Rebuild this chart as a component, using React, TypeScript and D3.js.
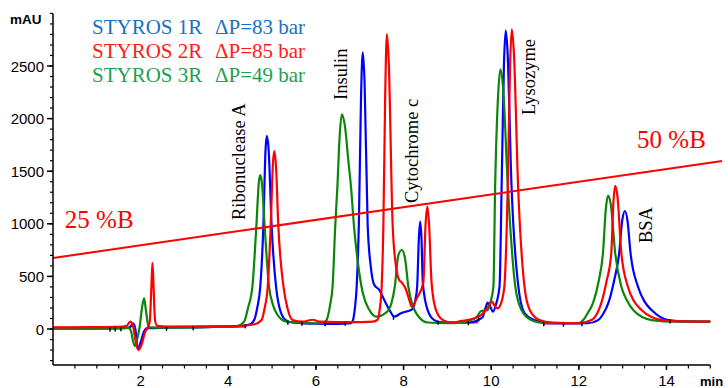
import React from 'react';
import * as d3 from 'd3';

const W = 728;
const H = 388;

// time (min), absorbance (mAU)
const blueTrace: [number, number][] = [
  [0, 3], [1.0, 5], [1.6, 10], [1.75, 15], [1.83, 55], [1.88, 0], [1.93, -190], [1.99, -140], [2.07, -30], [2.15, 8],
  [2.6, 12], [3.5, 18], [4.3, 30], [4.5, 45], [4.59, 85], [4.66, 200], [4.73, 402], [4.8, 972], [4.85, 1700], [4.88, 1835],
  [4.92, 1710], [4.99, 972], [5.09, 402], [5.17, 200], [5.31, 85], [5.5, 60], [6.0, 50], [6.5, 48], [6.8, 55], [6.85, 90],
  [6.89, 200], [6.93, 402], [6.98, 1000], [7.03, 2220], [7.07, 2630], [7.11, 2350], [7.18, 1000], [7.25, 600], [7.33, 420],
  [7.45, 370], [7.56, 276], [7.68, 180], [7.79, 117], [7.94, 150], [8.2, 190], [8.27, 280], [8.31, 402], [8.35, 870],
  [8.38, 1020], [8.41, 850], [8.44, 437], [8.55, 180], [8.7, 85], [8.9, 60], [9.5, 62], [9.8, 110], [9.87, 200], [9.92, 250],
  [9.97, 220], [10.04, 165], [10.12, 250], [10.19, 402], [10.24, 1400], [10.29, 2500], [10.33, 2836], [10.37, 2660],
  [10.46, 1400], [10.62, 402], [10.76, 152], [10.98, 85], [11.3, 55], [12.2, 55], [12.44, 85], [12.55, 140], [12.67, 244],
  [12.8, 450], [12.92, 720], [12.99, 1030], [13.05, 1122], [13.11, 1030], [13.18, 720], [13.35, 402], [13.5, 260],
  [13.66, 180], [14.04, 85], [14.5, 72], [15, 70],
];

const redTrace: [number, number][] = [
  [0, 15], [0.8, 18], [1.5, 20], [1.68, 30], [1.76, 70], [1.82, 40], [1.88, -100], [1.95, -200], [2.02, -150], [2.1, -30],
  [2.17, 20], [2.21, 80], [2.245, 400], [2.27, 630], [2.295, 400], [2.33, 80], [2.38, 30], [2.6, 22], [3.5, 25], [4.3, 30],
  [4.6, 45], [4.76, 85], [4.83, 200], [4.9, 402], [4.97, 1000], [5.02, 1580], [5.05, 1692], [5.09, 1540], [5.14, 1000],
  [5.26, 402], [5.35, 200], [5.47, 85], [5.7, 70], [5.92, 88], [6.1, 70], [6.8, 65], [7.3, 70], [7.41, 90], [7.46, 200],
  [7.5, 402], [7.54, 1000], [7.58, 2200], [7.62, 2804], [7.66, 2560], [7.75, 1000], [7.82, 620], [7.9, 466], [7.97, 437],
  [8.05, 380], [8.12, 290], [8.19, 212], [8.3, 290], [8.45, 437], [8.5, 975], [8.54, 1163], [8.58, 1010], [8.64, 437],
  [8.74, 180], [8.9, 85], [9.1, 60], [9.3, 75], [9.6, 100], [9.76, 130], [9.9, 190], [10.02, 260], [10.08, 220],
  [10.14, 196], [10.22, 240], [10.3, 402], [10.38, 1400], [10.43, 2500], [10.47, 2849], [10.52, 2610], [10.61, 1400],
  [10.76, 402], [10.88, 180], [11.1, 85], [11.4, 60], [12.0, 55], [12.29, 85], [12.42, 150], [12.51, 244], [12.63, 450],
  [12.74, 720], [12.79, 1210], [12.83, 1362], [12.88, 1265], [12.97, 720], [13.12, 402], [13.25, 270], [13.43, 180],
  [13.89, 85], [14.3, 72], [15, 70],
];

const greenTrace: [number, number][] = [
  [0, 0], [1.0, 2], [1.6, 5], [1.72, 10], [1.78, -20], [1.83, -120], [1.87, -162], [1.92, -100], [1.98, 30], [2.03, 200],
  [2.08, 292], [2.12, 180], [2.17, 40], [2.22, 15], [2.6, 12], [3.5, 18], [4.2, 28], [4.36, 70], [4.45, 200], [4.55, 402],
  [4.64, 972], [4.7, 1405], [4.73, 1464], [4.77, 1380], [4.83, 972], [4.93, 402], [5.02, 230], [5.1, 150], [5.32, 70],
  [5.6, 60], [6.0, 55], [6.18, 60], [6.25, 90], [6.32, 220], [6.38, 402], [6.44, 972], [6.49, 1353], [6.54, 1820],
  [6.59, 2041], [6.66, 1935], [6.74, 1600], [6.8, 1353], [6.87, 972], [6.95, 656], [7.07, 342], [7.22, 180], [7.38, 117],
  [7.6, 155], [7.72, 240], [7.8, 402], [7.88, 700], [7.96, 751], [8.03, 680], [8.11, 402], [8.29, 149], [8.55, 62],
  [9.0, 55], [9.3, 60], [9.5, 80], [9.66, 110], [9.77, 171], [9.92, 180], [9.98, 250], [10.05, 402], [10.09, 1353],
  [10.16, 2240], [10.21, 2468], [10.27, 2300], [10.38, 1353], [10.55, 402], [10.69, 180], [10.91, 85], [11.2, 55],
  [12.0, 55], [12.1, 85], [12.2, 150], [12.32, 244], [12.45, 450], [12.55, 720], [12.62, 1160], [12.67, 1268],
  [12.73, 1180], [12.83, 720], [12.97, 402], [13.1, 270], [13.24, 180], [13.66, 85], [14.2, 70], [15, 70],
];

// integration baseline segments [start, end, level]
const baselineSegments: [number, number, number][] = [
  [0, 0.9, 12], [3.3, 4.4, 22], [8.75, 9.7, 62], [11.2, 12.05, 52],
];

// integration event marks [time, level]
const eventMarks: [number, number][] = [
  [1.3, 5], [1.42, 5], [1.55, 8], [2.59, 12], [3.2, 18], [4.39, 35], [5.36, 70], [5.68, 60], [6.21, 55], [6.67, 60],
  [7.77, 117], [8.79, 70], [9.48, 65], [9.71, 100], [11.2, 55], [11.65, 50], [12.07, 55], [14.08, 80],
];

const gradientT = [0, 15.27];
const gradientV = [675, 1597];

const yTickValues = [0, 500, 1000, 1500, 2000, 2500];
const xTickValues = [2, 4, 6, 8, 10, 12, 14];

const legendNames = ['STYROS 1R', 'STYROS 2R', 'STYROS 3R'];
const legendPressure = ['\u0394P=83 bar', '\u0394P=85 bar', '\u0394P=49 bar'];

const peakNames = ['Ribonuclease A', 'Insulin', 'Cytochrome c', 'Lysozyme', 'BSA'];
const peakLabelT = [4.38, 6.71, 8.33, 11.0, 13.68];
const peakLabelV = [1036, 2177, 1198, 2034, 817];

const gradientLabels = ['25 %B', '50 %B'];
const gradientLabelT = [0.27, 13.33];
const gradientLabelV = [960, 1720];

const traceColors = ['#0000ff', '#ff0000', '#0a860a'];
const legendColors = ['#1a6fc4', '#ff1a1a', '#1ea050'];

const SANS = "'Liberation Sans', Arial, sans-serif";
const SERIF = "'Liberation Serif', 'Times New Roman', serif";

export default function App() {
  const x = d3.scaleLinear().domain([0, 15]).range([53, 710.3]);
  const y = d3.scaleLinear().domain([-342, 3000]).range([365, 13.4]);

  const line = d3
    .line<[number, number]>()
    .x((d) => x(d[0]))
    .y((d) => y(d[1]))
    .curve(d3.curveMonotoneX);

  const traces = [blueTrace, greenTrace, redTrace];
  const traceCol = [traceColors[0], traceColors[2], traceColors[1]];

  const yMinor = d3.range(-300, 3001, 100);
  const xMinor = d3.range(0.5, 15.01, 0.5);

  return (
    <svg width={W} height={H} style={{ position: 'absolute', left: 0, top: 0, background: '#fff' }}>
      {baselineSegments.map((s, i) => (
        <line key={'b' + i} x1={x(s[0])} x2={x(s[1])} y1={y(s[2])} y2={y(s[2])} stroke="#ff00ff" strokeWidth={2} />
      ))}
      {traces.map((tr, i) => (
        <path key={'t' + i} d={line(tr) || ''} fill="none" stroke={traceCol[i]} strokeWidth={2.2} strokeLinejoin="round" />
      ))}
      {eventMarks.map((m, i) => (
        <line key={'e' + i} x1={x(m[0])} x2={x(m[0])} y1={y(m[1]) - 1} y2={y(m[1]) + 3} stroke="#000" strokeWidth={1.5} />
      ))}
      <line
        x1={x(gradientT[0])}
        y1={y(gradientV[0])}
        x2={x(gradientT[1])}
        y2={y(gradientV[1])}
        stroke="#ff0000"
        strokeWidth={2}
      />
      {gradientLabels.map((g, i) => (
        <text key={'g' + i} x={x(gradientLabelT[i])} y={y(gradientLabelV[i])} fontFamily={SERIF} fontSize={25} fill="#ff0000">
          {g}
        </text>
      ))}
      {peakNames.map((p, i) => (
        <text
          key={'p' + i}
          transform={`translate(${x(peakLabelT[i])},${y(peakLabelV[i])}) rotate(-90)`}
          fontFamily={SERIF}
          fontSize={18.5}
          fill="#000"
        >
          {p}
        </text>
      ))}
      {legendNames.map((n, i) => (
        <g key={'l' + i}>
          <text x={92} y={34 + i * 23.8} fontFamily={SERIF} fontSize={21} fill={legendColors[i]}>
            {n}
          </text>
          <text x={215} y={34 + i * 23.8} fontFamily={SERIF} fontSize={21} fill={legendColors[i]}>
            {legendPressure[i]}
          </text>
        </g>
      ))}
      <line x1={53} x2={53} y1={y(3000)} y2={365} stroke="#000" strokeWidth={1.5} />
      <line x1={53} x2={x(15)} y1={365} y2={365} stroke="#000" strokeWidth={1.5} />
      {yMinor.map((v) => (
        <line key={'ym' + v} x1={50} x2={53} y1={y(v)} y2={y(v)} stroke="#000" strokeWidth={1.2} />
      ))}
      {yTickValues.map((v) => (
        <g key={'y' + v}>
          <line x1={47} x2={53} y1={y(v)} y2={y(v)} stroke="#000" strokeWidth={1.5} />
          <text x={44} y={y(v) + 5.5} textAnchor="end" fontFamily={SANS} fontSize={15} fill="#000">
            {v}
          </text>
        </g>
      ))}
      {xMinor.map((t) => (
        <line key={'xm' + t} x1={x(t)} x2={x(t)} y1={365} y2={368.5} stroke="#000" strokeWidth={1.2} />
      ))}
      {xTickValues.map((t) => (
        <g key={'x' + t}>
          <line x1={x(t)} x2={x(t)} y1={365} y2={370} stroke="#000" strokeWidth={1.5} />
          <text x={x(t)} y={386} textAnchor="middle" fontFamily={SANS} fontSize={15} fill="#000">
            {t}
          </text>
        </g>
      ))}
      <text x={10} y={24} fontFamily={SANS} fontSize={13.5} fontWeight="bold" fill="#000">
        mAU
      </text>
      <text x={700} y={386} fontFamily={SANS} fontSize={13} fontWeight="bold" fill="#000">
        min
      </text>
    </svg>
  );
}
